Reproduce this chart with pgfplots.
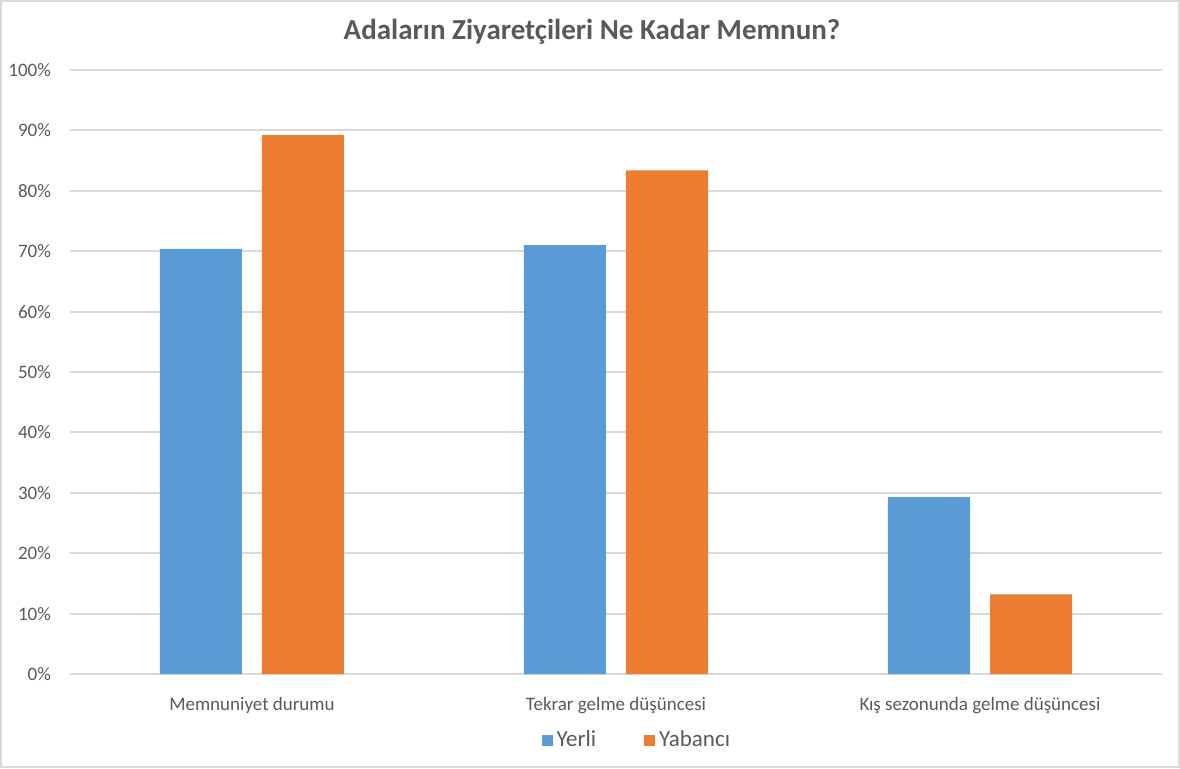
\documentclass[border=0pt]{standalone}
\usepackage{pgfplots}
\pgfplotsset{compat=1.18}
\usepackage{fontspec}
\setmainfont{Carlito}
\definecolor{cblue}{HTML}{5B9BD5}
\definecolor{corange}{HTML}{ED7D31}
\definecolor{cgrid}{HTML}{D9D9D9}
\definecolor{ctext}{HTML}{595959}
\begin{document}
\begin{tikzpicture}
\useasboundingbox (0,0) rectangle (590pt,384pt);
\draw[cgrid, line width=1pt] (0.5pt,0.5pt) rectangle (589.5pt,383.5pt);
\node[text=ctext, font=\fontsize{14.5}{16}\selectfont\bfseries] at (296pt,368pt) {Adaların Ziyaretçileri Ne Kadar Memnun?};
\begin{axis}[
  at={(35pt,47pt)}, anchor=south west,
  width=546pt, height=302pt, scale only axis,
  ybar=10pt, bar width=41pt,
  xmin=-0.5, xmax=2.5, ymin=0, ymax=100,
  xtick=data,
  xticklabels={Memnuniyet durumu, Tekrar gelme düşüncesi, Kış sezonunda gelme düşüncesi},
  ytick={0,10,...,100},
  yticklabel={\pgfmathprintnumber{\tick}\%},
  /pgf/number format/assume math mode=true,
  ymajorgrids, grid style={cgrid, line width=1pt},
  axis x line*=bottom,
  axis y line*=left,
  x axis line style={cgrid, line width=1pt},
  y axis line style={draw=none},
  major tick length=0pt,
  xticklabel style={text=ctext, font=\fontsize{9.5}{11}\selectfont, yshift=-8pt},
  yticklabel style={text=ctext, font=\fontsize{9.5}{11}\selectfont, xshift=-6pt},
  legend style={draw=none, fill=none, at={(0.52,-0.109)}, anchor=center,
    legend columns=2, font=\fontsize{11.5}{13}\selectfont, text=ctext,
    /tikz/every even column/.append style={column sep=22pt}},
  legend image code/.code={\fill[#1] (0pt,-3pt) rectangle (5.5pt,2.5pt);},
  clip=false,
]
\addplot[fill=cblue, draw=none] coordinates {(0,70.4) (1,71.0) (2,29.3)};
\addplot[fill=corange, draw=none] coordinates {(0,89.2) (1,83.4) (2,13.2)};
\legend{Yerli, Yabancı}
\end{axis}
\end{tikzpicture}
\end{document}
